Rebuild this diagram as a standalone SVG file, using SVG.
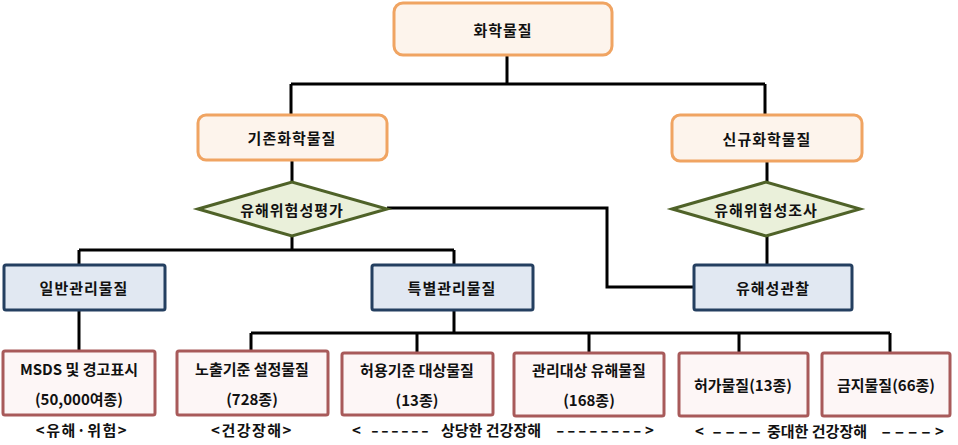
<svg xmlns="http://www.w3.org/2000/svg" width="958" height="445" viewBox="0 0 958 445">
<style>
text{font-family:"Noto Sans CJK KR","Noto Sans",sans-serif;font-weight:bold;font-size:15px;fill:#111;text-anchor:middle;dominant-baseline:central}
.org{fill:#fdf4ec;stroke:#f0a462;stroke-width:3}
.dia{fill:#eaf0da;stroke:#4f6228;stroke-width:3}
.blu{fill:#e1e8f2;stroke:#243f60;stroke-width:3}
.red{fill:#fdf6f6;stroke:#a85a5a;stroke-width:3}
.con{fill:none;stroke:#000;stroke-width:3}
.st{text-anchor:start}
.dash{text-anchor:start;letter-spacing:1.6px}
</style>
<g id="connectors">
<path class="con" d="M507 56V84M291 84H765M291 84V116M765 84V116"/>
<path class="con" d="M292 160V183M767 161V183"/>
<path class="con" d="M292 236V250M79 250H454M79 250V266M454 250V266"/>
<path class="con" d="M387 208H607V287H694"/>
<path class="con" d="M767 236V266"/>
<path class="con" d="M79 310V352"/>
<path class="con" d="M454 310V333M251 333H890M251 333V352M417 333V353M589 333V354M739 333V354M890 333V354"/>
</g>
<g id="n-chem"><rect class="org" x="394" y="3" width="218" height="52" rx="9"/><text x="503" y="29" letter-spacing="1">화학물질</text></g>
<g id="n-exist"><rect class="org" x="198" y="115" width="189" height="45" rx="8"/><text x="292" y="137.5" letter-spacing="1">기존화학물질</text></g>
<g id="n-new"><rect class="org" x="672" y="115" width="190" height="46" rx="8"/><text x="767" y="138" letter-spacing="1">신규화학물질</text></g>
<g id="n-eval"><polygon class="dia" points="198,209 292,182 387,209 292,236"/><text x="292" y="209" letter-spacing="1">유해위험성평가</text></g>
<g id="n-survey"><polygon class="dia" points="672,209 766,182 860,209 766,236"/><text x="766" y="209" letter-spacing="1">유해위험성조사</text></g>
<g id="n-general"><rect class="blu" x="4" y="265" width="161" height="45" rx="2"/><text x="84" y="287.5" letter-spacing="1">일반관리물질</text></g>
<g id="n-special"><rect class="blu" x="372" y="265" width="161" height="45" rx="2"/><text x="452" y="287.5" letter-spacing="1">특별관리물질</text></g>
<g id="n-observe"><rect class="blu" x="694" y="265" width="158" height="45" rx="2"/><text x="773" y="287.5" letter-spacing="1">유해성관찰</text></g>
<g id="n-msds"><rect class="red" x="3" y="351" width="152" height="64" rx="2"/><text x="79" y="368">MSDS 및 경고표시</text><text x="79" y="398">(50,000여종)</text></g>
<g id="n-exposure"><rect class="red" x="177" y="351" width="151" height="64" rx="2"/><text x="252" y="368">노출기준 설정물질</text><text x="252" y="398">(728종)</text></g>
<g id="n-permit-std"><rect class="red" x="342" y="353" width="151" height="62" rx="2"/><text x="417" y="369">허용기준 대상물질</text><text x="417" y="399">(13종)</text></g>
<g id="n-managed"><rect class="red" x="514" y="353" width="150" height="63" rx="2"/><text x="589" y="369">관리대상 유해물질</text><text x="589" y="399">(168종)</text></g>
<g id="n-permit"><rect class="red" x="679" y="353" width="129" height="63" rx="2"/><text x="743" y="384">허가물질(13종)</text></g>
<g id="n-ban"><rect class="red" x="822" y="353" width="128" height="63" rx="2"/><text x="886" y="384">금지물질(66종)</text></g>
<g id="labels">
<text x="82" y="429" letter-spacing="1.5">&lt;유해·위험&gt;</text>
<text x="252" y="429" letter-spacing="1.5">&lt;건강장해&gt;</text>
<text class="st" x="352" y="429">&lt;</text>
<text class="dash" x="371" y="429" textLength="60" lengthAdjust="spacingAndGlyphs">------</text>
<text class="st" x="441" y="429">상당한 건강장해</text>
<text class="dash" x="556" y="429" textLength="88" lengthAdjust="spacingAndGlyphs">--------</text>
<text class="st" x="645" y="429">&gt;</text>
<text class="st" x="695" y="430">&lt;</text>
<text class="dash" x="712" y="430" textLength="52" lengthAdjust="spacingAndGlyphs">----</text>
<text class="st" x="767" y="430">중대한 건강장해</text>
<text class="dash" x="881" y="430" textLength="53" lengthAdjust="spacingAndGlyphs">----</text>
<text class="st" x="935" y="430">&gt;</text>
</g>
</svg>
